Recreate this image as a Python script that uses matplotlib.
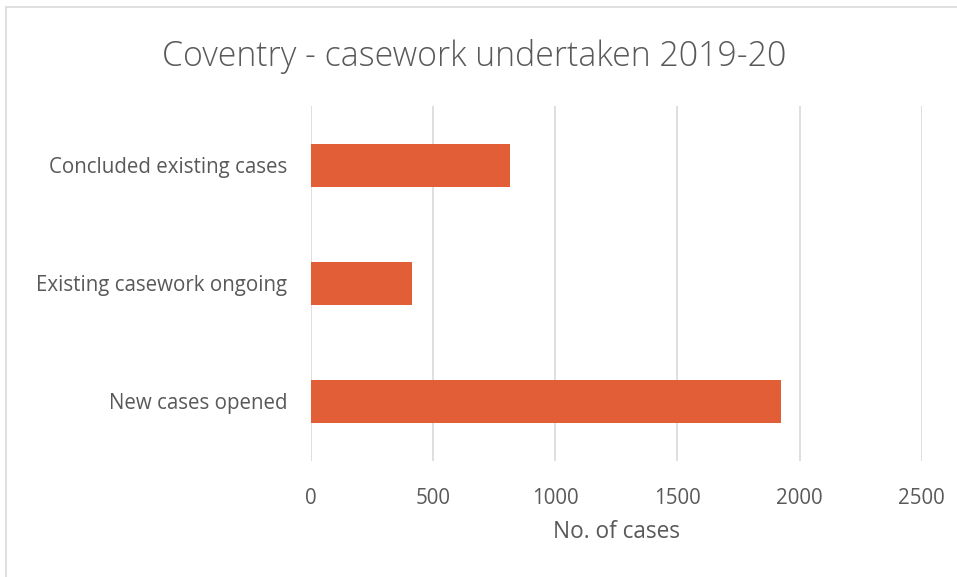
import matplotlib.pyplot as plt
from matplotlib.patches import Rectangle

# casework figures, bottom row first
categories = ['New cases opened', 'Existing casework ongoing', 'Concluded existing cases']
cases = [1925, 412, 815]
xticks = [0, 500, 1000, 1500, 2000, 2500]

plt.rcParams['font.family'] = ['Open Sans', 'DejaVu Sans']
text_grey = '#595959'

fig = plt.figure(figsize=(9.57, 5.77), dpi=100)
ax = fig.add_axes([311 / 957, 116.5 / 577, 610.7 / 957, 354.2 / 577])

# chart frame
fig.patches.append(Rectangle((6 / 957, -0.1), 1.1, 1.1 - 7 / 577,
                             transform=fig.transFigure, fill=False,
                             edgecolor='#d9d9d9', linewidth=1.2))

ypos = range(len(categories))
ax.barh(ypos, cases, height=0.36, color='#E25E37', zorder=3)

ax.set_xlim(0, 2500)
ax.set_ylim(-0.5, len(categories) - 0.5)
ax.set_xticks(xticks)
ax.set_xticklabels([str(t) for t in xticks])
ax.set_yticks(list(ypos))
ax.set_yticklabels(categories)
ax.grid(axis='x', color='#d9d9d9', linewidth=1.2, zorder=0)
for s in ax.spines.values():
    s.set_visible(False)
ax.tick_params(axis='both', length=0, labelsize=14.8, colors=text_grey)
ax.tick_params(axis='x', pad=20)
ax.tick_params(axis='y', pad=17)

ax.set_xlabel('No. of cases', fontsize=16.3, color=text_grey, labelpad=8)

fig.text(0.496, 1 - 57 / 577, 'Coventry - casework undertaken 2019-20',
         ha='center', va='center', fontsize=24.4, color=text_grey, fontweight='light')

fig.savefig('out.png', dpi=100)
